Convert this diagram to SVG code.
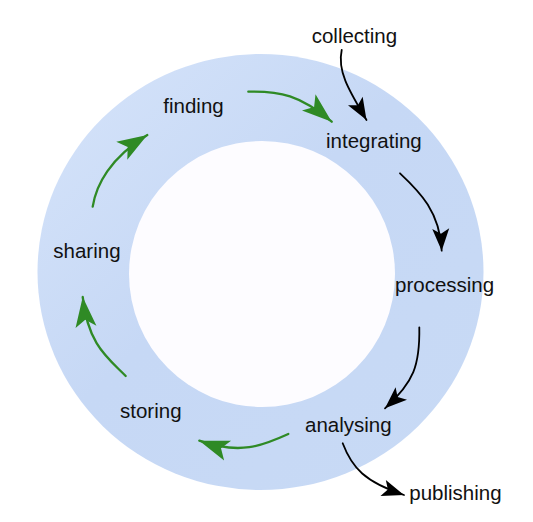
<svg xmlns="http://www.w3.org/2000/svg" width="533" height="522" viewBox="0 0 533 522">
  <style>
    .label { font-family: "Liberation Sans", Arial, Helvetica, sans-serif; font-size: 20.5px; fill: #111111; }
    .flow-black { fill: none; stroke: #000000; stroke-width: 1.8; stroke-linecap: round; }
    .flow-green { fill: none; stroke: #2f8a25; stroke-width: 2.3; stroke-linecap: round; }
  </style>
  <defs>
    <linearGradient id="ringFill" x1="0" y1="0" x2="1" y2="1">
      <stop offset="0" stop-color="#d6e4fa"/>
      <stop offset="0.45" stop-color="#c6d8f5"/>
      <stop offset="1" stop-color="#c8daf5"/>
    </linearGradient>
    <marker id="headBlack" markerUnits="userSpaceOnUse" viewBox="-25 -12 26 24" markerWidth="26" markerHeight="24" refX="0" refY="0" orient="auto" overflow="visible">
      <path d="M0,0 L-22,-8.5 L-17,0 L-22,8.5 Z" fill="#000000"/>
    </marker>
    <marker id="headGreen" markerUnits="userSpaceOnUse" viewBox="-33 -13 34 26" markerWidth="34" markerHeight="26" refX="0" refY="0" orient="auto" overflow="visible">
      <path d="M0,0 L-30,-10.5 L-23,0 L-30,10.5 Z" fill="#2f8a25"/>
    </marker>
  </defs>

  <rect x="0" y="0" width="533" height="522" fill="#ffffff"/>

  <!-- cycle ring -->
  <g id="ring">
    <ellipse cx="260.5" cy="272" rx="223" ry="218" fill="url(#ringFill)"/>
    <circle cx="262" cy="274" r="133" fill="#fdfcff"/>
  </g>

  <!-- connectors -->
  <g id="connectors">
    <path class="flow-black" d="M341.7,50 C337,72 350,92 366.5,120" marker-end="url(#headBlack)"/>
    <path class="flow-black" d="M400,173.3 C420,192 440,212 441.7,250.7" marker-end="url(#headBlack)"/>
    <path class="flow-black" d="M419.3,327.3 C420,365 414,382 385,408.3" marker-end="url(#headBlack)"/>
    <path class="flow-black" d="M342.7,443.3 C352,468 365,482 404,495" marker-end="url(#headBlack)"/>
    <path class="flow-green" d="M248.3,91.7 C280,91 300,95 331.7,121.7" marker-end="url(#headGreen)"/>
    <path class="flow-green" d="M288.3,434 C262,446 240,455 199.3,440.7" marker-end="url(#headGreen)"/>
    <path class="flow-green" d="M125.7,376 C108,358 88,345 82.7,297" marker-end="url(#headGreen)"/>
    <path class="flow-green" d="M92.7,206.7 C96,185 110,158 147.3,135" marker-end="url(#headGreen)"/>
  </g>

  <!-- stages -->
  <g id="collecting"><text class="label" x="311.7" y="43.3">collecting</text></g>
  <g id="integrating"><text class="label" x="326" y="148.3">integrating</text></g>
  <g id="processing"><text class="label" x="395" y="291.7">processing</text></g>
  <g id="analysing"><text class="label" x="305" y="431.7">analysing</text></g>
  <g id="publishing"><text class="label" x="409.3" y="500">publishing</text></g>
  <g id="storing"><text class="label" x="120" y="418.3">storing</text></g>
  <g id="sharing"><text class="label" x="53.3" y="258.3">sharing</text></g>
  <g id="finding"><text class="label" x="163.3" y="113.3">finding</text></g>
</svg>
